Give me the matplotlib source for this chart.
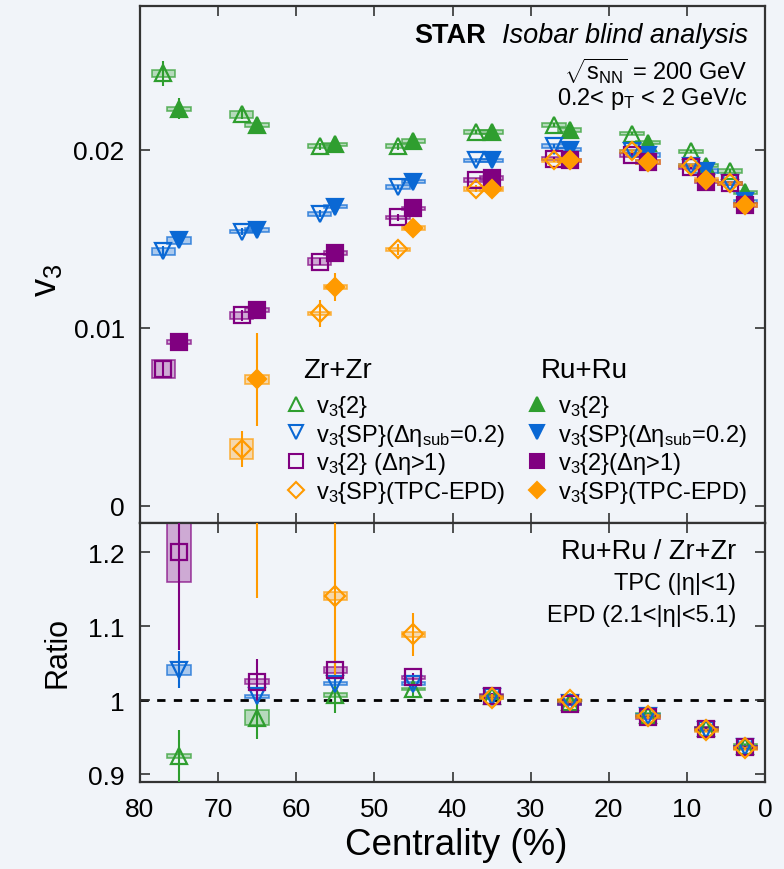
import numpy as np
import matplotlib
matplotlib.use('Agg')
import matplotlib.pyplot as plt
from matplotlib.patches import Rectangle
from matplotlib.lines import Line2D

plt.rcParams['font.family'] = ['Liberation Sans', 'DejaVu Sans']
plt.rcParams['mathtext.fontset'] = 'custom'
plt.rcParams['mathtext.rm'] = 'Liberation Sans'
plt.rcParams['mathtext.it'] = 'Liberation Sans:italic'
plt.rcParams['mathtext.bf'] = 'Liberation Sans:bold'

# centrality bins (%), Ru+Ru at bin centre, Zr+Zr shifted by +2 in the top panel
cent = [2.5, 7.5, 15, 25, 35, 45, 55, 65, 75]
zr_shift = 2.0
nan = np.nan

# v3 values, Zr+Zr
zr_v2 = [0.0188, 0.0199, 0.0209, 0.0214, 0.0210, 0.0202, 0.0202, 0.0220, 0.0243]
zr_sp = [0.0181, 0.0191, 0.0199, 0.0202, 0.0194, 0.0179, 0.0164, 0.0154, 0.0143]
zr_gap = [0.0181, 0.0190, 0.0197, 0.0195, 0.0183, 0.0162, 0.0137, 0.0107, 0.0077]
zr_epd = [0.0181, 0.0191, 0.0199, 0.0194, 0.0178, 0.0144, 0.0108, 0.0032, nan]
# v3 values, Ru+Ru
ru_v2 = [0.0176, 0.0191, 0.0204, 0.0211, 0.0210, 0.0205, 0.0203, 0.0214, 0.0223]
ru_sp = [0.0171, 0.0188, 0.0197, 0.0200, 0.0194, 0.0182, 0.0168, 0.0155, 0.0149]
ru_gap = [0.0169, 0.0182, 0.0193, 0.0194, 0.0184, 0.0167, 0.0142, 0.0110, 0.0092]
ru_epd = [0.0169, 0.0183, 0.0193, 0.0194, 0.0178, 0.0156, 0.0123, 0.0071, nan]

# statistical errors
zr_v2_err = [0.0001, 0.0001, 0.0001, 0.0001, 0.0001, 0.0002, 0.0002, 0.0003, 0.0007]
ru_v2_err = [0.0001, 0.0001, 0.0001, 0.0001, 0.0001, 0.0002, 0.0002, 0.0003, 0.0006]
zr_sp_err = [0.0001, 0.0001, 0.0001, 0.0001, 0.0001, 0.0001, 0.0002, 0.0002, 0.0003]
ru_sp_err = [0.0001, 0.0001, 0.0001, 0.0001, 0.0001, 0.0001, 0.0002, 0.0002, 0.0003]
zr_gap_err = [0.0001, 0.0001, 0.0001, 0.0001, 0.0001, 0.0002, 0.0002, 0.0003, 0.0004]
ru_gap_err = [0.0001, 0.0001, 0.0001, 0.0001, 0.0001, 0.0002, 0.0002, 0.0002, 0.0003]
zr_epd_err = [0.0001, 0.0001, 0.0001, 0.0001, 0.0002, 0.0003, 0.00075, 0.0010, nan]
ru_epd_err = [0.0001, 0.0001, 0.0001, 0.0001, 0.0002, 0.0003, 0.0008, 0.0026, nan]

# systematic errors (box half height)
zr_v2_sys = [0.0001, 0.0001, 0.0001, 0.0001, 0.0001, 0.0001, 0.0001, 0.0002, 0.0002]
ru_v2_sys = [0.0001, 0.0001, 0.0001, 0.0001, 0.0001, 0.0001, 0.0001, 0.0001, 0.0001]
zr_sp_sys = [0.0001, 0.0001, 0.0001, 0.0001, 0.0001, 0.0001, 0.0001, 0.0001, 0.0002]
ru_sp_sys = [0.0001, 0.0001, 0.0001, 0.0001, 0.0001, 0.0001, 0.0001, 0.0001, 0.0002]
zr_gap_sys = [0.0001, 0.0001, 0.0001, 0.0001, 0.0001, 0.0001, 0.0002, 0.0002, 0.0005]
ru_gap_sys = [0.0001, 0.0001, 0.0001, 0.0001, 0.0001, 0.0001, 0.0001, 0.0001, 0.0001]
zr_epd_sys = [0.0001, 0.0001, 0.0001, 0.0001, 0.0001, 0.0001, 0.0001, 0.00055, nan]
ru_epd_sys = [0.0001, 0.0001, 0.0001, 0.0001, 0.0001, 0.0001, 0.0001, 0.00025, nan]

# ratio Ru+Ru / Zr+Zr
rat_v2 = [0.938, 0.962, 0.980, 0.997, 1.005, 1.015, 1.007, 0.976, 0.924]
rat_sp = [0.936, 0.960, 0.979, 0.996, 1.004, 1.022, 1.022, 1.005, 1.041]
rat_gap = [0.936, 0.961, 0.977, 0.995, 1.006, 1.031, 1.041, 1.025, 1.200]
rat_epd = [0.935, 0.959, 0.978, 1.000, 1.003, 1.089, 1.141, 1.450, nan]
rat_v2_err = [0.002, 0.002, 0.002, 0.002, 0.003, 0.010, 0.025, 0.028, 0.035]
rat_sp_err = [0.002, 0.002, 0.002, 0.002, 0.003, 0.005, 0.006, 0.010, 0.025]
rat_gap_err = [0.002, 0.002, 0.002, 0.002, 0.003, 0.005, 0.010, 0.030, 0.132]
rat_epd_err = [0.002, 0.002, 0.003, 0.004, 0.005, 0.029, 0.107, 0.312, nan]
rat_v2_sys = [0.002, 0.002, 0.002, 0.002, 0.002, 0.002, 0.003, 0.010, 0.003]
rat_sp_sys = [0.002, 0.002, 0.002, 0.002, 0.002, 0.002, 0.002, 0.002, 0.007]
rat_gap_sys = [0.002, 0.002, 0.002, 0.002, 0.002, 0.002, 0.004, 0.003, 0.040]
rat_epd_sys = [0.002, 0.002, 0.002, 0.002, 0.002, 0.003, 0.005, 0.005, nan]

green = '#2f9e2f'
blue = '#0a68d4'
purple = '#800080'
orange = '#ff9a00'
bg = '#f1f4f9'

box_hw = 1.5


def draw(ax, x, y, err, sys, color, marker, filled, ms):
    x = np.asarray(x, float)
    y = np.asarray(y, float)
    for xi, yi, si in zip(x, y, sys):
        if np.isnan(yi):
            continue
        ax.add_patch(Rectangle((xi - box_hw, yi - si), 2 * box_hw, 2 * si,
                               facecolor=color, alpha=0.3, edgecolor='none', zorder=2))
        ax.add_patch(Rectangle((xi - box_hw, yi - si), 2 * box_hw, 2 * si,
                               facecolor='none', edgecolor=color, alpha=0.7, lw=1.2, zorder=2))
    ax.errorbar(x, y, yerr=err, fmt='none', ecolor=color, elinewidth=1.5, capsize=0, zorder=3)
    ax.plot(x, y, linestyle='none', marker=marker, ms=ms, mew=1.6, mec=color,
            mfc=color if filled else 'none', zorder=4)


fig = plt.figure(figsize=(7.84, 8.7), dpi=100, facecolor=bg)
ax1 = fig.add_axes([140 / 784, 1 - 524 / 870, 625 / 784, 517 / 870], facecolor=bg)
ax2 = fig.add_axes([140 / 784, 1 - 783 / 870, 625 / 784, 259 / 870], facecolor=bg)

cz = np.array(cent) + zr_shift
draw(ax1, cz, zr_v2, zr_v2_err, zr_v2_sys, green, '^', False, 11.5)
draw(ax1, cent, ru_v2, ru_v2_err, ru_v2_sys, green, '^', True, 11.5)
draw(ax1, cz, zr_sp, zr_sp_err, zr_sp_sys, blue, 'v', False, 11.5)
draw(ax1, cent, ru_sp, ru_sp_err, ru_sp_sys, blue, 'v', True, 11.5)
draw(ax1, cz, zr_gap, zr_gap_err, zr_gap_sys, purple, 's', False, 11.5)
draw(ax1, cent, ru_gap, ru_gap_err, ru_gap_sys, purple, 's', True, 11.5)
draw(ax1, cz, zr_epd, zr_epd_err, zr_epd_sys, orange, 'D', False, 9)
draw(ax1, cent, ru_epd, ru_epd_err, ru_epd_sys, orange, 'D', True, 9)

draw(ax2, cent, rat_v2, rat_v2_err, rat_v2_sys, green, '^', False, 12)
draw(ax2, cent, rat_sp, rat_sp_err, rat_sp_sys, blue, 'v', False, 12)
draw(ax2, cent, rat_gap, rat_gap_err, rat_gap_sys, purple, 's', False, 12)
draw(ax2, cent, rat_epd, rat_epd_err, rat_epd_sys, orange, 'D', False, 10)
ax2.axhline(1.0, color='black', ls=(0, (3, 3)), lw=2, zorder=1)

for ax in (ax1, ax2):
    ax.set_xlim(80, 0)
    ax.set_xticks([80, 70, 60, 50, 40, 30, 20, 10, 0])
    ax.tick_params(direction='in', length=7, width=1.2, top=True, right=True,
                   labelsize=19, pad=11, colors='#333333', labelcolor='black')
    for s in ax.spines.values():
        s.set_linewidth(1.6)
        s.set_color('#333333')

ax1.set_ylim(-0.00097, 0.02807)
ax1.set_yticks([0, 0.01, 0.02])
ax1.set_yticklabels(['0', '0.01', '0.02'])
ax1.tick_params(labelbottom=False)

ax2.set_ylim(0.8892, 1.2396)
ax2.set_yticks([0.9, 1.0, 1.1, 1.2])
ax2.set_yticklabels(['0.9', '1', '1.1', '1.2'])

fig.text(47 / 784, 1 - 280 / 870, 'v$_3$', rotation=90, ha='center', va='center', fontsize=26)
fig.text(58 / 784, 1 - 652 / 870, 'Ratio', rotation=90, ha='center', va='center', fontsize=22)
fig.text(456 / 784, 1 - 846 / 870, 'Centrality (%)', ha='center', va='center', fontsize=26.5)

# header text
tx = 748 / 784
fig.text(tx - 262 / 784, 1 - 36 / 870, 'STAR', ha='right', va='center', fontsize=19.5, weight='bold')
fig.text(tx, 1 - 36 / 870, 'Isobar blind analysis', ha='right', va='center', fontsize=19.5, style='italic')
fig.text(tx, 1 - 71 / 870, r'$\sqrt{\mathrm{s_{NN}}}$ = 200 GeV', ha='right', va='center', fontsize=17)
fig.text(tx, 1 - 99 / 870, r'0.2< p$_\mathrm{T}$ < 2 GeV/c', ha='right', va='center', fontsize=17)

rx = 736 / 784
fig.text(rx, 1 - 552 / 870, 'Ru+Ru / Zr+Zr', ha='right', va='center', fontsize=19.5)
fig.text(rx, 1 - 584 / 870, 'TPC (|η|<1)', ha='right', va='center', fontsize=17)
fig.text(rx, 1 - 616 / 870, 'EPD (2.1<|η|<5.1)', ha='right', va='center', fontsize=17)

# legends
fig.text(303 / 784, 1 - 371 / 870, 'Zr+Zr', ha='left', va='center', fontsize=20)
fig.text(541 / 784, 1 - 371 / 870, 'Ru+Ru', ha='left', va='center', fontsize=20)
labels_zr = ['v$_3${2}', r'v$_3${SP}(Δη$_\mathrm{sub}$=0.2)', 'v$_3${2} (Δη>1)', 'v$_3${SP}(TPC-EPD)']
labels_ru = ['v$_3${2}', r'v$_3${SP}(Δη$_\mathrm{sub}$=0.2)', 'v$_3${2}(Δη>1)', 'v$_3${SP}(TPC-EPD)']
mk = [('^', green, 10), ('v', blue, 10), ('s', purple, 10), ('D', orange, 8)]
h_zr = [Line2D([], [], ls='none', marker=m, ms=s, mec=c, mfc='none', mew=1.5) for m, c, s in mk]
h_ru = [Line2D([], [], ls='none', marker=m, ms=s, mec=c, mfc=c, mew=1.5) for m, c, s in mk]

leg1 = ax1.legend(h_zr, labels_zr, loc='upper left',
                  bbox_to_anchor=(274 / 784, 1 - 382 / 870), bbox_transform=fig.transFigure,
                  frameon=False, fontsize=17, handlelength=0.9,
                  handletextpad=0.4, labelspacing=0.12, borderpad=0)
ax1.add_artist(leg1)
ax1.legend(h_ru, labels_ru, loc='upper left',
           bbox_to_anchor=(515 / 784, 1 - 382 / 870), bbox_transform=fig.transFigure,
           frameon=False, fontsize=17, handlelength=0.9,
           handletextpad=0.4, labelspacing=0.12, borderpad=0)

fig.savefig('out.png', dpi=100, facecolor=bg)
